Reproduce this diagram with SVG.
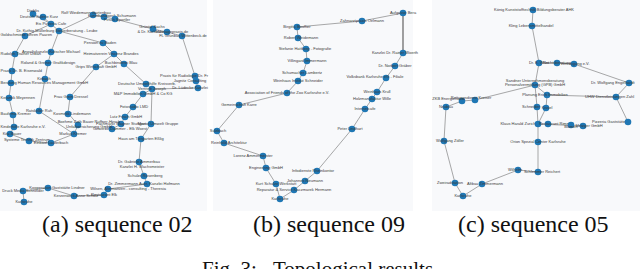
<svg xmlns="http://www.w3.org/2000/svg" width="640" height="269" viewBox="0 0 640 269">
<style>
.bg{fill:#f8f9fb}
.e line{stroke:#6e6e6e;stroke-width:0.6}
.n circle{fill:#1f77b4}
.n text{font-family:"Liberation Sans",Arial,sans-serif;font-size:4px;fill:#3a3a3a;text-anchor:middle}
.s{text-anchor:start!important}
.cap{font-family:"Liberation Serif","Times New Roman",serif;font-size:24px;fill:#111}
.fig{font-family:"Liberation Serif","Times New Roman",serif;font-size:21px;fill:#111}
</style>
<rect x="0" y="0" width="640" height="269" fill="#ffffff"/>
<rect class="bg" x="0" y="0" width="207" height="211"/>
<rect class="bg" x="213" y="0" width="200" height="211"/>
<rect class="bg" x="432" y="0" width="208" height="211"/>

<g id="connectors" class="e">
<!-- panel a -->
<line x1="33" y1="14" x2="51" y2="24"/>
<line x1="43" y1="17" x2="51" y2="24"/>
<line x1="51" y1="24" x2="59" y2="31"/>
<line x1="25" y1="36" x2="51" y2="24"/>
<line x1="59" y1="31" x2="93" y2="15"/>
<line x1="93" y1="15" x2="104" y2="17"/>
<line x1="104" y1="17" x2="115" y2="19"/>
<line x1="115" y1="19" x2="153" y2="29"/>
<line x1="153" y1="29" x2="167" y2="32"/>
<line x1="167" y1="32" x2="182" y2="36"/>
<line x1="182" y1="36" x2="195" y2="76"/>
<line x1="195" y1="76" x2="196" y2="81"/>
<line x1="196" y1="81" x2="198" y2="88"/>
<line x1="198" y1="88" x2="152" y2="89"/>
<line x1="59" y1="31" x2="103" y2="43"/>
<line x1="59" y1="31" x2="51" y2="52"/>
<line x1="103" y1="43" x2="114" y2="54"/>
<line x1="114" y1="54" x2="124" y2="64"/>
<line x1="124" y1="64" x2="146" y2="84"/>
<line x1="146" y1="84" x2="152" y2="89"/>
<line x1="114" y1="54" x2="96" y2="67"/>
<line x1="96" y1="67" x2="70" y2="97"/>
<line x1="70" y1="97" x2="68" y2="113"/>
<line x1="68" y1="113" x2="78" y2="125"/>
<line x1="78" y1="125" x2="74" y2="134"/>
<line x1="74" y1="134" x2="51" y2="143"/>
<line x1="51" y1="143" x2="29" y2="141"/>
<line x1="29" y1="141" x2="10" y2="134"/>
<line x1="10" y1="134" x2="14" y2="127"/>
<line x1="14" y1="127" x2="13" y2="115"/>
<line x1="13" y1="115" x2="9" y2="98"/>
<line x1="9" y1="98" x2="11" y2="83"/>
<line x1="11" y1="83" x2="12" y2="71"/>
<line x1="12" y1="71" x2="15" y2="54"/>
<line x1="15" y1="54" x2="25" y2="36"/>
<line x1="51" y1="52" x2="48" y2="63"/>
<line x1="48" y1="63" x2="45" y2="79"/>
<line x1="45" y1="79" x2="39" y2="111"/>
<line x1="39" y1="111" x2="74" y2="134"/>
<line x1="152" y1="89" x2="143" y2="94"/>
<line x1="143" y1="94" x2="133" y2="107"/>
<line x1="133" y1="107" x2="125" y2="117"/>
<line x1="125" y1="117" x2="121" y2="124"/>
<line x1="121" y1="124" x2="112" y2="129"/>
<line x1="152" y1="89" x2="151" y2="124"/>
<line x1="151" y1="124" x2="141" y2="139"/>
<line x1="141" y1="139" x2="139" y2="162"/>
<line x1="139" y1="162" x2="144" y2="176"/>
<line x1="144" y1="176" x2="147" y2="184"/>
<line x1="147" y1="184" x2="108" y2="189"/>
<line x1="108" y1="189" x2="104" y2="195"/>
<line x1="104" y1="195" x2="74" y2="196"/>
<line x1="74" y1="196" x2="48" y2="188"/>
<line x1="48" y1="188" x2="23" y2="191"/>
<line x1="23" y1="191" x2="24" y2="202"/>
<!-- panel b -->
<line x1="280" y1="199" x2="276" y2="184"/>
<line x1="276" y1="184" x2="266" y2="168"/>
<line x1="266" y1="168" x2="263" y2="156"/>
<line x1="263" y1="156" x2="224" y2="143"/>
<line x1="224" y1="143" x2="217" y2="131"/>
<line x1="217" y1="131" x2="239" y2="105"/>
<line x1="239" y1="105" x2="287" y2="93"/>
<line x1="287" y1="93" x2="298" y2="81"/>
<line x1="298" y1="81" x2="303" y2="73"/>
<line x1="303" y1="73" x2="307" y2="61"/>
<line x1="307" y1="61" x2="306" y2="49"/>
<line x1="306" y1="49" x2="298" y2="38"/>
<line x1="298" y1="38" x2="297" y2="27"/>
<line x1="297" y1="27" x2="362" y2="21"/>
<line x1="362" y1="21" x2="403" y2="13"/>
<line x1="403" y1="13" x2="403" y2="53" style="stroke-width:1.3"/>
<line x1="403" y1="53" x2="395" y2="66"/>
<line x1="395" y1="66" x2="386" y2="78"/>
<line x1="386" y1="78" x2="377" y2="92"/>
<line x1="377" y1="92" x2="372" y2="99"/>
<line x1="372" y1="99" x2="365" y2="109"/>
<line x1="365" y1="109" x2="352" y2="129"/>
<line x1="352" y1="129" x2="317" y2="171"/>
<line x1="317" y1="171" x2="305" y2="181"/>
<line x1="305" y1="181" x2="294" y2="190"/>
<line x1="294" y1="190" x2="280" y2="199"/>
<!-- panel c -->
<line x1="533" y1="10" x2="532" y2="26"/>
<line x1="532" y1="26" x2="539" y2="63"/>
<line x1="539" y1="63" x2="557" y2="63"/>
<line x1="557" y1="63" x2="574" y2="64"/>
<line x1="574" y1="64" x2="629" y2="83"/>
<line x1="629" y1="83" x2="616" y2="97"/>
<line x1="616" y1="97" x2="628" y2="122"/>
<line x1="616" y1="97" x2="547" y2="95"/>
<line x1="539" y1="63" x2="535" y2="85"/>
<line x1="535" y1="85" x2="547" y2="95"/>
<line x1="535" y1="85" x2="537" y2="107"/>
<line x1="547" y1="95" x2="546" y2="108"/>
<line x1="537" y1="107" x2="538" y2="124"/>
<line x1="546" y1="108" x2="538" y2="124"/>
<line x1="538" y1="124" x2="583" y2="126"/>
<line x1="538" y1="124" x2="538" y2="142"/>
<line x1="538" y1="142" x2="538" y2="172"/>
<line x1="538" y1="172" x2="518" y2="170"/>
<line x1="518" y1="170" x2="482" y2="184"/>
<line x1="482" y1="184" x2="463" y2="196"/>
<line x1="463" y1="196" x2="455" y2="183"/>
<line x1="455" y1="183" x2="444" y2="141"/>
<line x1="444" y1="141" x2="446" y2="107"/>
<line x1="446" y1="107" x2="462" y2="101"/>
<line x1="462" y1="101" x2="475" y2="100"/>
<line x1="475" y1="100" x2="535" y2="85"/>
</g>

<!-- panel a nodes -->
<g id="a1" class="n"><circle cx="33" cy="14" r="3.3"/><text x="33" y="12.4">Dieblis</text></g>
<g id="a2" class="n"><circle cx="43" cy="17" r="3.3"/><text x="39" y="18.4">Deutsch Galerie Kurz</text></g>
<g id="a3" class="n"><circle cx="51" cy="24" r="3.3"/><text x="51" y="25.4">Eis Pizzeria Cafe</text></g>
<g id="a4" class="n"><circle cx="59" cy="31" r="3.3"/><text x="57" y="32.4">Dr. Kuthig-Müllerburg Steuerberatung - Leube</text></g>
<g id="a5" class="n"><circle cx="93" cy="15" r="3.3"/><text x="86" y="13.6">Rolf Wiedemann Gartenbau</text></g>
<g id="a6" class="n"><circle cx="104" cy="17" r="3.3"/><text x="112" y="17.2">Kunsthandwerk Schumann</text></g>
<g id="a7" class="n"><circle cx="115" cy="19" r="3.3"/><text x="117" y="21.4">Pirsch Sportler</text></g>
<g id="a8" class="n"><circle cx="153" cy="29" r="3.3"/><text x="152" y="28">Grüntal Sachs</text><text x="151" y="33.4">&amp; Dr. Karlsruhe</text></g>
<g id="a9" class="n"><circle cx="167" cy="32" r="3.3"/><text x="172" y="33.4">Massagepraxis.de</text></g>
<g id="a10" class="n"><circle cx="182" cy="36" r="3.3"/><text x="183" y="37.4">FL Grünbau Wittenbeck.de</text></g>
<g id="a11" class="n"><circle cx="195" cy="76" r="3.3"/><text x="184" y="77.4">Praxis für Radiologie Dr. Fr</text></g>
<g id="a12" class="n"><circle cx="196" cy="81" r="3.3"/><text x="190" y="82.4">Jagnitz Consulting</text></g>
<g id="a13" class="n"><circle cx="198" cy="88" r="3.3"/><text x="190" y="89.4">Dr. Lüdecke Kanzlei</text></g>
<g id="a14" class="n"><circle cx="152" cy="89" r="3.3"/><text x="152" y="90.4">Vertrieb Joseph</text></g>
<g id="a15" class="n"><circle cx="146" cy="84" r="3.3"/><text x="147" y="85.4">Deutsche Umwelthilfe Kreisverb.</text></g>
<g id="a16" class="n"><circle cx="143" cy="94" r="3.3"/><text x="143" y="95.4">M&amp;P Immobilien GmbH &amp; Co KG</text></g>
<g id="a17" class="n"><circle cx="133" cy="107" r="3.3"/><text x="134" y="108.4">Fotostudio LMD</text></g>
<g id="a18" class="n"><circle cx="125" cy="117" r="3.3"/><text x="126" y="118.4">Lutz Frisch GmbH</text></g>
<g id="a19" class="n"><circle cx="121" cy="124" r="3.3"/><text x="121" y="124.6">Fachmarkt Wagner Stuttgart</text></g>
<g id="a20" class="n"><circle cx="151" cy="124" r="3.3"/><text x="158" y="124.6">Messe Umwelt Gruppe</text></g>
<g id="a21" class="n"><circle cx="112" cy="129" r="3.3"/><text x="120" y="130.4">Gewerbe Dammer - Elk Woest</text></g>
<g id="a22" class="n"><circle cx="141" cy="139" r="3.3"/><text x="141" y="140.4">Haus am Tiergarten Eßlig</text></g>
<g id="a23" class="n"><circle cx="139" cy="162" r="3.3"/><text x="139" y="163.4">Dr. Gabriele Ammerbau</text><text x="142" y="168.4">Kanzlei H. Wachsmeister</text></g>
<g id="a24" class="n"><circle cx="144" cy="176" r="3.3"/><text x="145" y="177.4">Schulze Rosenberg</text></g>
<g id="a25" class="n"><circle cx="147" cy="184" r="3.3"/><text x="144" y="185.4">Dr. Zimmermann Auer, Kanzlei Hofmann</text></g>
<g id="a26" class="n"><circle cx="108" cy="189" r="3.3"/><text x="128" y="190.4">Wilsen, Alternativen - consulting - Theresia</text></g>
<g id="a27" class="n"><circle cx="104" cy="195" r="3.3"/><text x="104" y="196.4">Restaurant Elk</text></g>
<g id="a28" class="n"><circle cx="74" cy="196" r="3.3"/><text x="76" y="197.4">Kerzenwerk Anne Schulz</text></g>
<g id="a29" class="n"><circle cx="48" cy="188" r="3.3"/><text x="57" y="188.6">Kooperation Gaststätte Lindner</text></g>
<g id="a30" class="n"><circle cx="23" cy="191" r="3.3"/><text x="23" y="192.4">Druck Media Schneider</text></g>
<g id="a31" class="n"><circle cx="24" cy="202" r="3.3"/><text x="24" y="203.4">Karlsruhe</text></g>
<g id="a32" class="n"><circle cx="25" cy="36" r="3.3"/><text class="s" x="0.5" y="36.4">Goldschmiede Uhren Paaren</text></g>
<g id="a33" class="n"><circle cx="15" cy="54" r="3.3"/><text class="s" x="0.5" y="55.4">Rudolph Trainer Urban</text></g>
<g id="a34" class="n"><circle cx="12" cy="71" r="3.3"/><text class="s" x="0.5" y="72.4">Praxis Dr. B. Eisenwald</text></g>
<g id="a35" class="n"><circle cx="11" cy="83" r="3.3"/><text class="s" x="0.5" y="84.4">Beratung Human Resources Management GmbH</text></g>
<g id="a36" class="n"><circle cx="9" cy="98" r="3.3"/><text class="s" x="0.5" y="99.4">Keramik Meyennen</text></g>
<g id="a37" class="n"><circle cx="13" cy="115" r="3.3"/><text class="s" x="0.5" y="115.4">Baufirma Kremer</text></g>
<g id="a38" class="n"><circle cx="14" cy="127" r="3.3"/><text class="s" x="0.5" y="128.4">Kinderhilfe Karlsruhe e.V.</text></g>
<g id="a39" class="n"><circle cx="10" cy="134" r="3.3"/><text x="12" y="135.4">Kita Bauer</text></g>
<g id="a40" class="n"><circle cx="29" cy="141" r="3.3"/><text x="27" y="141.4">Systeme Technik Zentrum</text></g>
<g id="a41" class="n"><circle cx="51" cy="143" r="3.3"/><text x="51" y="144.4">Einkauf Lauterbach</text></g>
<g id="a42" class="n"><circle cx="74" cy="134" r="3.3"/><text x="73" y="135.4">Markus Kremer</text></g>
<g id="a43" class="n"><circle cx="78" cy="125" r="3.3"/><text x="89" y="123.4">Boehme Zoth Bauer Ruffner-Hirsch</text><text x="89" y="127.8">Unfallversicherung GmbH</text></g>
<g id="a44" class="n"><circle cx="68" cy="114" r="3.3"/><text x="72" y="114.6">Kosmetik Lindemann</text></g>
<g id="a45" class="n"><circle cx="39" cy="111" r="3.3"/><text x="39" y="112.4">Ratskeller Ruh</text></g>
<g id="a46" class="n"><circle cx="70" cy="97" r="3.3"/><text x="71" y="98.4">Frau Grein Dressel</text></g>
<g id="a47" class="n"><circle cx="45" cy="79" r="3.3"/><text x="44" y="80.4">Kirbach</text></g>
<g id="a48" class="n"><circle cx="48" cy="63" r="3.3"/><text x="48" y="64.4">Roland &amp; Greiner Grafikdesign</text></g>
<g id="a49" class="n"><circle cx="51" cy="52" r="3.3"/><text x="51" y="53.4">Anwaltskanzlei Kutscher Michael</text></g>
<g id="a50" class="n"><circle cx="103" cy="43" r="3.3"/><text x="100" y="44.4">Pension zu Baden</text></g>
<g id="a51" class="n"><circle cx="114" cy="54" r="3.3"/><text x="111" y="55.4">Heimatverein Vincenz Brandes</text></g>
<g id="a52" class="n"><circle cx="124" cy="64" r="3.3"/><text x="121" y="64.4">Buchbinderei Blau</text></g>
<g id="a53" class="n"><circle cx="96" cy="67" r="3.3"/><text x="96" y="68.4">Grips Wirtschaft GmbH</text></g>

<!-- panel b nodes -->
<g id="b1" class="n"><circle cx="403" cy="13" r="3.3"/><text x="403" y="14.4">Aufgasse Bera</text></g>
<g id="b2" class="n"><circle cx="362" cy="21" r="3.3"/><text x="362" y="22.4">Zahnarztpraxis Oelmann</text></g>
<g id="b3" class="n"><circle cx="297" cy="27" r="3.3"/><text x="297" y="28.4">Birgitta Bouffier</text></g>
<g id="b4" class="n"><circle cx="298" cy="38" r="3.3"/><text x="301" y="39.4">Robert Weidemann</text></g>
<g id="b5" class="n"><circle cx="306" cy="49" r="3.3"/><text x="305" y="50.4">Stefanie Hattberg - Fotografie</text></g>
<g id="b6" class="n"><circle cx="307" cy="61" r="3.3"/><text x="307" y="62.4">Villingard Immermann</text></g>
<g id="b7" class="n"><circle cx="303" cy="73" r="3.3"/><text x="302" y="74.4">Schumacher Lambertz</text></g>
<g id="b8" class="n"><circle cx="298" cy="81" r="3.3"/><text x="298" y="82.4">Weinhaus Institut Schneider</text></g>
<g id="b9" class="n"><circle cx="287" cy="93" r="3.3"/><text x="287" y="94.4">Association of Friends of the Zoo Karlsruhe e.V.</text></g>
<g id="b10" class="n"><circle cx="239" cy="105" r="3.3"/><text x="239" y="106.4">Gemeinschaft Karre</text></g>
<g id="b11" class="n"><circle cx="217" cy="131" r="3.3"/><text x="218" y="132.4">Sulzbach</text></g>
<g id="b12" class="n"><circle cx="224" cy="143" r="3.3"/><text x="229" y="144.4">Reinhold Architektur</text></g>
<g id="b13" class="n"><circle cx="263" cy="156" r="3.3"/><text x="253" y="157.4">Lorenz Ammermeister</text></g>
<g id="b14" class="n"><circle cx="266" cy="168" r="3.3"/><text x="266" y="169.4">Engineering GmbH</text></g>
<g id="b15" class="n"><circle cx="317" cy="171" r="3.3"/><text x="313" y="172.4">Infodienste Rheinkontor</text></g>
<g id="b16" class="n"><circle cx="305" cy="181" r="3.3"/><text x="305" y="182.4">Johannes Neumann</text></g>
<g id="b17" class="n"><circle cx="276" cy="184" r="3.3"/><text x="276" y="185.4">Kurt Schulze Werkstatt</text></g>
<g id="b18" class="n"><circle cx="294" cy="190" r="3.3"/><text x="294" y="191.4">Reparatur &amp; Service Kaczmarek Hermann</text></g>
<g id="b19" class="n"><circle cx="280" cy="199" r="3.3"/><text x="280" y="200.4">Karlsruhe</text></g>
<g id="b20" class="n"><circle cx="403" cy="53" r="3.3"/><text x="395" y="54.4">Kanzlei Dr. Rainer Woerth</text></g>
<g id="b21" class="n"><circle cx="395" cy="66" r="3.3"/><text x="395" y="67.4">Dr. Norbert Gräber</text></g>
<g id="b22" class="n"><circle cx="386" cy="78" r="3.3"/><text x="375" y="78.4">Volksbank Karlsruhe eG - Filiale</text></g>
<g id="b23" class="n"><circle cx="377" cy="92" r="3.3"/><text x="377" y="93.4">Weinhaus Krull</text></g>
<g id="b24" class="n"><circle cx="372" cy="99" r="3.3"/><text x="372" y="100.4">Holzmanufaktur Wille</text></g>
<g id="b25" class="n"><circle cx="365" cy="109" r="3.3"/><text x="365" y="110.4">Internetcafe</text></g>
<g id="b26" class="n"><circle cx="352" cy="129" r="3.3"/><text x="350" y="130.4">Peter Lindhart</text></g>

<!-- panel c nodes -->
<g id="c1" class="n"><circle cx="533" cy="10" r="3.3"/><text x="534" y="11.4">König Kunststofftechnik Bildungsberater AHK</text></g>
<g id="c2" class="n"><circle cx="532" cy="26" r="3.3"/><text x="531" y="27.4">Kling Lebensmittelhandel</text></g>
<g id="c3" class="n"><circle cx="539" cy="63" r="3.3"/><text x="539" y="64.4">Dr. E. Wüst</text></g>
<g id="c4" class="n"><circle cx="557" cy="63" r="3.3"/><text x="557" y="64.4">Rechtsberatung</text></g>
<g id="c5" class="n"><circle cx="574" cy="64" r="3.3"/><text x="575" y="65.4">Vereinigung e.V.</text></g>
<g id="c6" class="n"><circle cx="629" cy="83" r="3.3"/><text class="s" x="591" y="84.4">Dr. Wolfgang Engelhardt</text></g>
<g id="c7" class="n"><circle cx="616" cy="97" r="3.3"/><text class="s" x="585" y="98.4">UHW Dienstleistungen Zahl</text></g>
<g id="c8" class="n"><circle cx="628" cy="122" r="3.3"/><text class="s" x="592" y="123.4">Pizzeria Gaststätte</text></g>
<g id="c9" class="n"><circle cx="547" cy="95" r="3.3"/><text x="545" y="96.4">Planung Erich Immobilien</text></g>
<g id="c10" class="n"><circle cx="535" cy="85" r="3.3"/><text x="535" y="82">Sandner Unternehmensberatung</text><text x="535" y="86.4">Personalvermittlung (GPB) GmbH</text></g>
<g id="c11" class="n"><circle cx="537" cy="107" r="3.3"/><text x="531" y="108.4">Schneider</text></g>
<g id="c12" class="n"><circle cx="546" cy="108" r="3.3"/><text x="547" y="109.4">Kissel</text></g>
<g id="c13" class="n"><circle cx="538" cy="124" r="3.3"/><text x="518" y="125.4">Klaus Harald Zurich</text></g>
<g id="c14" class="n"><circle cx="548" cy="124" r="3.3"/><text x="556" y="125.4">Restaurant Rimmel</text></g>
<g id="c15" class="n"><circle cx="571" cy="125" r="3.3"/><text x="571" y="127.6">Blumen</text></g>
<g id="c16" class="n"><circle cx="583" cy="126" r="3.3"/><text x="589" y="127.4">Metzger GmbH</text></g>
<g id="c17" class="n"><circle cx="538" cy="142" r="3.3"/><text x="538" y="143.4">Orion Spezial Center Karlsruhe</text></g>
<g id="c18" class="n"><circle cx="538" cy="172" r="3.3"/><text x="542" y="173.4">Schlemmer Reichert</text></g>
<g id="c19" class="n"><circle cx="518" cy="170" r="3.3"/><text x="515" y="170.6">Wilhelm</text></g>
<g id="c20" class="n"><circle cx="482" cy="184" r="3.3"/><text x="485" y="185.4">Altbau Zimmermann</text></g>
<g id="c21" class="n"><circle cx="463" cy="196" r="3.3"/><text x="463" y="197.4">Karlsruhe</text></g>
<g id="c22" class="n"><circle cx="455" cy="183" r="3.3"/><text x="450" y="184.4">Zweiradstation</text></g>
<g id="c23" class="n"><circle cx="444" cy="141" r="3.3"/><text x="450" y="142.4">Wolfgang Zöller</text></g>
<g id="c24" class="n"><circle cx="446" cy="107" r="3.3"/><text x="446" y="108.4">Neubau</text></g>
<g id="c25" class="n"><circle cx="462" cy="101" r="3.3"/><text x="448" y="100.4">ZKB Energiehaus</text></g>
<g id="c26" class="n"><circle cx="475" cy="100" r="3.3"/><text x="471" y="99.4">Rettungsdienst Kreiser</text></g>

<text class="cap" x="42" y="232">(a) sequence 02</text>
<text class="cap" x="253" y="232">(b) sequence 09</text>
<text class="cap" x="458" y="232">(c) sequence 05</text>
<text class="fig" x="202" y="276">Fig. 3:<tspan x="273">Topological results</tspan></text>
</svg>
